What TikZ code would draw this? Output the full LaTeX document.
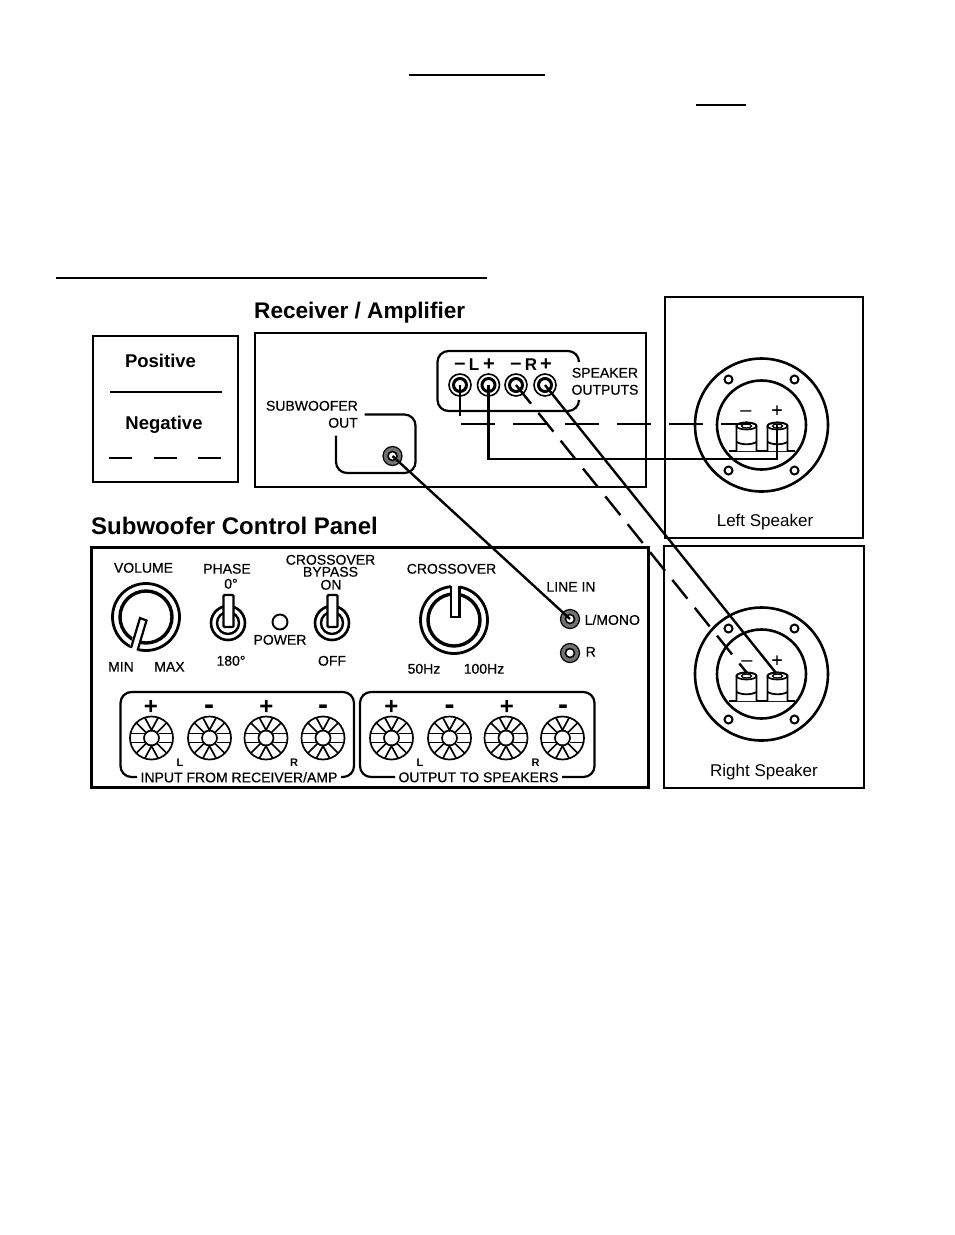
\documentclass[tikz,border=0pt]{standalone}
\usepackage{fontspec}
\setmainfont{Liberation Sans}
\newfontfamily\heavier[FakeBold=0.5]{Liberation Sans}
\newcommand{\fs}[1]{\fontsize{#1}{#1}\selectfont}
\tikzset{
 box/.style={draw=black,line width=2.8pt},
 wire/.style={draw=black,line width=2.4pt},
 dashwire/.style={draw=black,line width=2.4pt,dash pattern=on 24pt off 11.7pt},
 hdash/.style={draw=black,line width=2pt,dash pattern=on 34pt off 18pt},
 group/.style={draw=black,line width=2.2pt,rounded corners=11pt},
 lab/.style={inner sep=0pt,font=\heavier\fs{14},yshift=0.2pt},
 title/.style={inner sep=0pt,font=\bfseries,anchor=west},
 legendtext/.style={inner sep=0pt,font=\fs{18.5}\bfseries},
 spktext/.style={inner sep=0pt,font=\fs{17}},
 sign/.style={inner sep=0pt,font=\fs{24}\bfseries},
 msign/.style={inner sep=0pt,font=\fs{30}\bfseries},
 rule/.style={draw=black,line width=2.6pt},
}
% speaker terminal cup
\newcommand{\spkcup}[3]{% cx cy topy
 \begin{scope}[shift={(#1,#2)}]
  \draw[line width=2pt] (-33,-45.5) circle (4) (33,-45.5) circle (4) (-33,45.5) circle (4) (33,45.5) circle (4);
  \draw[line width=2.6pt] (0,0) circle (66.5);
  \draw[line width=2.6pt] (0,0) circle (44.5);
  \draw[line width=2.6pt] (-33,#3+28) -- (33,#3+28);
  \foreach \px in {-15,16}{
   \draw[line width=1.7pt,fill=white] (\px-10,#3+28) -- (\px-10,#3+3) arc[start angle=180,end angle=0,x radius=10,y radius=-3.5] -- (\px+10,#3+28);
   \draw[line width=1.7pt] (\px,#3+3) ellipse (10 and 3.5);
   \draw[line width=1.3pt] (\px,#3+3) ellipse (5 and 2);
   \draw[line width=1.8pt] (\px-10,#3+19) .. controls (\px-5,#3+22) and (\px+5,#3+22) .. (\px+10,#3+19);
  }
 \end{scope}
}
% large knob
\newcommand{\knob}[7]{% cx cy tipx tipy endx endy name
 \coordinate (#7) at (#1,#2);
 \draw[line width=2.8pt] (#1,#2) circle (33.5);
 \draw[line width=3.4pt] (#1,#2) circle (26);
 \draw[white,line width=9pt] (#3,#4) -- (#5,#6);
}
% toggle
\newcommand{\toggle}[3]{% cx cy name
 \coordinate (#3) at (#1,#2);
 \draw[line width=2.6pt] (#1,#2) circle (17);
 \draw[line width=2.4pt] (#1,#2) circle (11);
 \draw[line width=2.2pt,fill=white,rounded corners=1pt] (#1-4.5,#2+4) rectangle (#1+5.5,#2-28);
}
% wheel terminal
\newcommand{\wheel}[2]{%
 \begin{scope}[shift={(#1,#2)},line width=1.7pt]
  \draw (0,0) circle (21.5);
  \draw (0,0) circle (7.5);
  \draw (-21,-4.5) -- (-7,-4.5) (-21,4.5) -- (-7,4.5) (21,-4.5) -- (7,-4.5) (21,4.5) -- (7,4.5);
  \draw (-6.5,-20) -- (0,-8) -- (6.5,-20) (-6.5,20) -- (0,8) -- (6.5,20);
  \foreach \a in {45,135,225,315}{\draw (\a:7.5) -- (\a:21);}
 \end{scope}
}
% receiver jack
\newcommand{\bigjack}[3]{%
 \coordinate (#3) at (#1,#2);
 \draw[line width=1.6pt] (#1,#2) circle (11);
 \draw[line width=3pt] (#1,#2) circle (6.5);
}
% small grey jack
\newcommand{\smalljack}[3]{%
 \coordinate (#3) at (#1,#2);
 \fill[black!55] (#1,#2) circle (9.5);
 \draw[black,line width=1.2pt] (#1,#2) circle (9.5);
 \draw[black,line width=1.6pt,fill=white] (#1,#2) circle (4.5);
}
\begin{document}
\begin{tikzpicture}[x=1pt,y=-1pt]
\useasboundingbox (0,0) rectangle (954,1235);
\fill[white] (0,0) rectangle (954,1235);

% page rules
\draw[rule] (409,75) -- (545,75);
\draw[black,line width=1.6pt] (696,105) -- (746,105);
\draw[rule] (56,278) -- (487,278);

% titles
\node[title,font=\fs{22.6}\bfseries] (ttlrecv) at (254,312.5) {Receiver / Amplifier};
\node[title,font=\fs{24}\bfseries] (ttlsub) at (91,526) {Subwoofer Control Panel};

% legend
\node[box,minimum width=145pt,minimum height=146pt,line width=2.4pt,inner sep=0pt] (legend) at (165.5,409) {};
\node[legendtext] (legpos) at (160.5,361) {Positive};
\node[legendtext] (legneg) at (164,425) {Negative};
\coordinate (lpa) at (110,392); \coordinate (lpb) at (222,392);
\coordinate (lna) at (109,458); \coordinate (lnb) at (221,458);
\draw[wire] (lpa) -- (lpb);
\draw[wire,dash pattern=on 23pt off 21.5pt] (lna) -- (lnb);

% boxes
\node[box,minimum width=391pt,minimum height=154pt,inner sep=0pt] (recv) at (450.5,410) {};
\node[box,minimum width=198pt,minimum height=241pt,inner sep=0pt] (lspk) at (764,417.5) {};
\node[box,minimum width=200pt,minimum height=242pt,inner sep=0pt] (rspk) at (764,667) {};
\node[box,minimum width=557pt,minimum height=240pt,line width=3pt,inner sep=0pt] (panel) at (370,667) {};

% speakers
\spkcup{761.5}{425}{-2}
\spkcup{761.5}{674}{-1}
\node[inner sep=0pt,font=\fs{20}] (lsm) at (746,414) {–};
\node[inner sep=0pt,font=\heavier\fs{19}] (lsp) at (777,411) {+};
\node[inner sep=0pt,font=\fs{20}] (rsm) at (747,664) {–};
\node[inner sep=0pt,font=\heavier\fs{19}] (rsp) at (777,661) {+};
\node[spktext] (lsname) at (765,522) {Left Speaker};
\node[spktext] (rsname) at (764,772) {Right Speaker};
\coordinate (lsneg) at (750,424);
\coordinate (lspos) at (777,424);
\coordinate (rsneg) at (747,673);
\coordinate (rspos) at (776,673);

% receiver group
\draw[group] (579,362) -- (579,351) -- (437.5,351) -- (437.5,411) -- (579,411) -- (579,400);
\bigjack{460}{385}{jln}
\bigjack{488.5}{385}{jlp}
\bigjack{516}{385}{jrn}
\bigjack{545}{385}{jrp}
\node[inner sep=0pt,font=\fs{20}\bfseries] (tlm) at (460,366) {–};
\node[inner sep=0pt,font=\fs{17}\bfseries] (tl) at (474,365) {L};
\node[inner sep=0pt,font=\fs{20}\bfseries] (tlp) at (489,365) {+};
\node[inner sep=0pt,font=\fs{20}\bfseries] (trm) at (516,366) {–};
\node[inner sep=0pt,font=\fs{17}\bfseries] (tr) at (531,365) {R};
\node[inner sep=0pt,font=\fs{20}\bfseries] (trp) at (546,365) {+};
\node[lab] (spko1) at (605,373) {SPEAKER};
\node[lab] (spko2) at (605,390) {OUTPUTS};

% subwoofer out
\draw[group] (364.5,414.5) -- (415.5,414.5) -- (415.5,473) -- (336,473) -- (336,435.5);
\node[lab,anchor=east] (subo1) at (358,406) {SUBWOOFER};
\node[lab,anchor=east] (subo2) at (358,423) {OUT};
\smalljack{392.5}{456}{subjack}

% control panel
\node[lab] (vol) at (143.5,568) {VOLUME};
\knob{146}{617}{143}{619}{133}{652}{volk}
\draw[line width=2.2pt,fill=white] (131,648) -- (140,618) -- (146.5,620.5) -- (137.5,650.5);
\node[lab] (vmin) at (121,667) {MIN};
\node[lab] (vmax) at (169.5,667) {MAX};

\node[lab] (ph) at (227,569) {PHASE};
\node[lab] (ph0) at (231,584) {0°};
\toggle{228}{623}{tph}
\node[lab] (ph180) at (231,661) {180°};

\draw[line width=1.9pt] (280,622) circle (7.5);
\node[lab] (pw) at (280,640) {POWER};

\node[lab] (cb1) at (330.5,560) {CROSSOVER};
\node[lab] (cb2) at (330.5,572) {BYPASS};
\node[lab] (cb3) at (331,585) {ON};
\toggle{332}{623}{tcb}
\node[lab] (cboff) at (332,661) {OFF};

\node[lab] (cr) at (451.5,569) {CROSSOVER};
\knob{454}{620}{455}{618}{455}{584}{crk}
\draw[line width=2.2pt,fill=white] (451,586) -- (451,617) -- (459.5,617) -- (459.5,586);
\node[lab] (c50) at (424,669) {50Hz};
\node[lab] (c100) at (484,669) {100Hz};

\node[lab] (li) at (571,587) {LINE IN};
\smalljack{570}{619}{jlm}
\smalljack{570}{653}{jr}
\node[lab,anchor=west] (llm) at (584.5,620) {L/MONO};
\node[lab,anchor=west] (lr) at (585.5,652) {R};

% terminal groups
\draw[group] (137,777) -- (120.5,777) -- (120.5,692) -- (354,692) -- (354,777) -- (341,777);
\draw[group] (395,777) -- (360,777) -- (360,692) -- (594.5,692) -- (594.5,777) -- (562,777);
\node[lab] (inl) at (239,777.5) {INPUT FROM RECEIVER/AMP};
\node[lab] (outl) at (478.5,777.5) {OUTPUT TO SPEAKERS};
\wheel{151.5}{738}\wheel{209.5}{738}\wheel{266}{738}\wheel{323}{738}
\wheel{391.5}{738}\wheel{449.5}{738}\wheel{506}{738}\wheel{562.5}{738}
\node[sign] (p1) at (151,707) {+};
\node[msign] (m1) at (209,710) {-};
\node[sign] (p2) at (266.5,707) {+};
\node[msign] (m2) at (323,710) {-};
\node[sign] (p3) at (391.5,707) {+};
\node[msign] (m3) at (449.5,710) {-};
\node[sign] (p4) at (507,707) {+};
\node[msign] (m4) at (563,710) {-};
\node[inner sep=0pt,font=\fs{11}\bfseries] (l1) at (180,763) {L};
\node[inner sep=0pt,font=\fs{11}\bfseries] (r1) at (294,763) {R};
\node[inner sep=0pt,font=\fs{11}\bfseries] (l2) at (420,763) {L};
\node[inner sep=0pt,font=\fs{11}\bfseries] (r2) at (535.5,763) {R};

% wiring
\coordinate (jlnend) at (460,416);
\draw[wire] (jln) -- (jlnend);
\coordinate (lnstart) at (461,424);
\draw[hdash] (lnstart) -- (lsneg);
\draw[wire] (jlp) |- (lspos |- 0,459) -- (lspos);
\draw[dashwire] (jrn) -- (rsneg);
\draw[wire] (jrp) -- (rspos);
\draw[wire] (subjack) -- (jlm);
\end{tikzpicture}
\end{document}
